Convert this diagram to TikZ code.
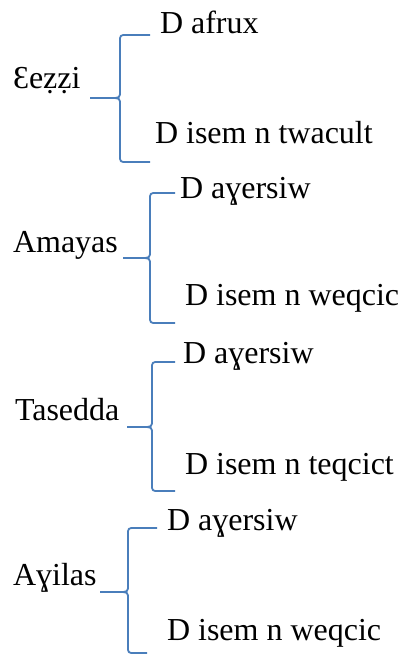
\documentclass[tikz,border=0pt]{standalone}
\usepackage{fontspec}
\setmainfont{LiberationSerif}[Extension=.ttf, UprightFont=*-Regular]
\definecolor{braceblue}{HTML}{4A7EBB}
\tikzset{
  lbl/.style={anchor=base west, inner sep=0pt, outer sep=0pt, font=\rmfamily\fontsize{32}{38}\selectfont},
  bracel/.style={draw=braceblue, line width=1.8pt, line join=round}
}
% #1 name prefix, #2 tip x, #3 tip y, #4 vertical x, #5 top y, #6 bottom y, #7 top end x, #8 bottom end x
\newcommand\drawmybrace[8]{%
  \coordinate (#1tip) at (#2,#3);
  \coordinate (#1top) at (#7,#5);
  \coordinate (#1bot) at (#8,#6);
  \draw[bracel] (#1top) -- (#4+7,#5) .. controls (#4,#5) .. (#4,#5+7)
     -- (#4,#3-7) .. controls (#4,#3) .. (#4-10,#3) -- (#1tip);
  \draw[bracel] (#1tip) -- (#4-10,#3) .. controls (#4,#3) .. (#4,#3+7)
     -- (#4,#6-7) .. controls (#4,#6) .. (#4+7,#6) -- (#1bot);
}
\begin{document}
\begin{tikzpicture}[x=1pt,y=-1pt]
\useasboundingbox (0,0) rectangle (401,656);
% group 1
\node[lbl] (n1) at (13,88) {Ɛeẓẓi};
\node[lbl] (a1) at (160,33) {D afrux};
\node[lbl] (b1) at (155,143) {D isem n twacult};
\drawmybrace{g1}{90}{98}{120}{35}{162}{150}{150}
% group 2
\node[lbl] (n2) at (13,252) {Amayas};
\node[lbl] (a2) at (180,198) {D aɣersiw};
\node[lbl] (b2) at (185,305) {D isem n weqcic};
\drawmybrace{g2}{123}{258}{150}{193}{323}{175}{175}
% group 3
\node[lbl] (n3) at (15,420) {Tasedda};
\node[lbl] (a3) at (183,363) {D aɣersiw};
\node[lbl] (b3) at (185,474) {D isem n teqcict};
\drawmybrace{g3}{127}{427}{152}{362}{491}{175}{175}
% group 4
\node[lbl] (n4) at (13,585) {Aɣilas};
\node[lbl] (a4) at (167,530) {D aɣersiw};
\node[lbl] (b4) at (167,640) {D isem n weqcic};
\drawmybrace{g4}{100}{592}{128}{528}{653}{157}{147}
\end{tikzpicture}
\end{document}
